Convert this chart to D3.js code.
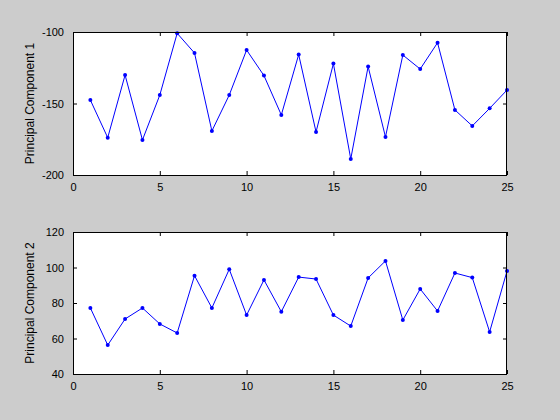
<!DOCTYPE html>
<html><head><meta charset="utf-8">
<script src="https://cdn.jsdelivr.net/npm/d3@7"></script>
<style>body{margin:0;background:#cccccc;} svg{display:block;}</style>
</head><body>
<svg id="c" width="560" height="420"></svg>
<script>
const idx = d3.range(1, 26);
const pc1 = [-147.6,-173.9,-130.1,-175.5,-144.1,-100.9,-114.7,-169.2,-144.1,-112.6,-130.5,-158,-115.8,-169.9,-122.1,-188.8,-124.2,-173.4,-116.1,-125.9,-107.5,-154.5,-165.7,-153.4,-140.6];
const pc2 = [77.2,56.3,71,77.2,68.2,63.1,95.4,77.2,99,73.2,93,75.1,94.6,93.5,73.2,67,94.1,103.7,70.4,87.9,75.5,96.9,94.3,63.7,98];
const xTicks = [0,5,10,15,20,25];
const y1Ticks = [-200,-150,-100];
const y2Ticks = [40,60,80,100,120];
const labels = ["Principal Component 1","Principal Component 2"];

const svg = d3.select("#c");
svg.append("rect").attr("width",560).attr("height",420).attr("fill","#cccccc");
const font = "Liberation Sans, Arial, Helvetica, sans-serif";
const L = 73, R = 507;

function panel(top, bottom, data, yDom, yTicks, label){
  const x = d3.scaleLinear().domain([0,25]).range([L,R]);
  const y = d3.scaleLinear().domain(yDom).range([bottom, top]);
  const g = svg.append("g");
  g.append("rect").attr("x",L).attr("y",top).attr("width",R-L).attr("height",bottom-top).attr("fill","#fff");
  const line = d3.line().x((d,i)=>x(idx[i])).y(d=>y(d));
  g.append("path").datum(data).attr("d",line).attr("fill","none").attr("stroke","#0000ff").attr("stroke-width",1);
  g.selectAll("circle").data(data).join("circle").attr("cx",(d,i)=>x(idx[i])).attr("cy",d=>y(d)).attr("r",2).attr("fill","#0000ff");
  // axes
  const ax = d3.axisBottom(x).tickValues(xTicks).tickSize(-4).tickPadding(8).tickFormat(d3.format("d"));
  const axT = d3.axisTop(x).tickValues(xTicks).tickSize(-4).tickFormat("");
  const ay = d3.axisLeft(y).tickValues(yTicks).tickSize(-4).tickPadding(9).tickFormat(d=>d<0?"-"+Math.abs(d):d);
  const ayR = d3.axisRight(y).tickValues(yTicks).tickSize(-4).tickFormat("");
  const sty = s => { s.select(".domain").remove(); s.selectAll("line").attr("stroke","#000"); s.selectAll("text").attr("fill","#000").style("font-family",font).style("font-size","11px"); };
  g.append("g").attr("transform",`translate(0,${bottom})`).call(ax).call(sty);
  g.append("g").attr("transform",`translate(0,${top})`).call(axT).call(sty);
  g.append("g").attr("transform",`translate(${L},0)`).call(ay).call(sty);
  g.append("g").attr("transform",`translate(${R},0)`).call(ayR).call(sty);
  g.append("rect").attr("x",L+0.5).attr("y",top+0.5).attr("width",R-L-1).attr("height",bottom-top).attr("fill","none").attr("stroke","#000").attr("stroke-width",1);
  g.append("text").attr("transform",`translate(34,${(top+bottom)/2}) rotate(-90)`).attr("text-anchor","middle")
    .style("font-family",font).style("font-size","12px").attr("fill","#000").text(label);
}
panel(32, 175, pc1, [-200,-100], y1Ticks, labels[0]);
panel(232, 374, pc2, [40,120], y2Ticks, labels[1]);
</script>
</body></html>
